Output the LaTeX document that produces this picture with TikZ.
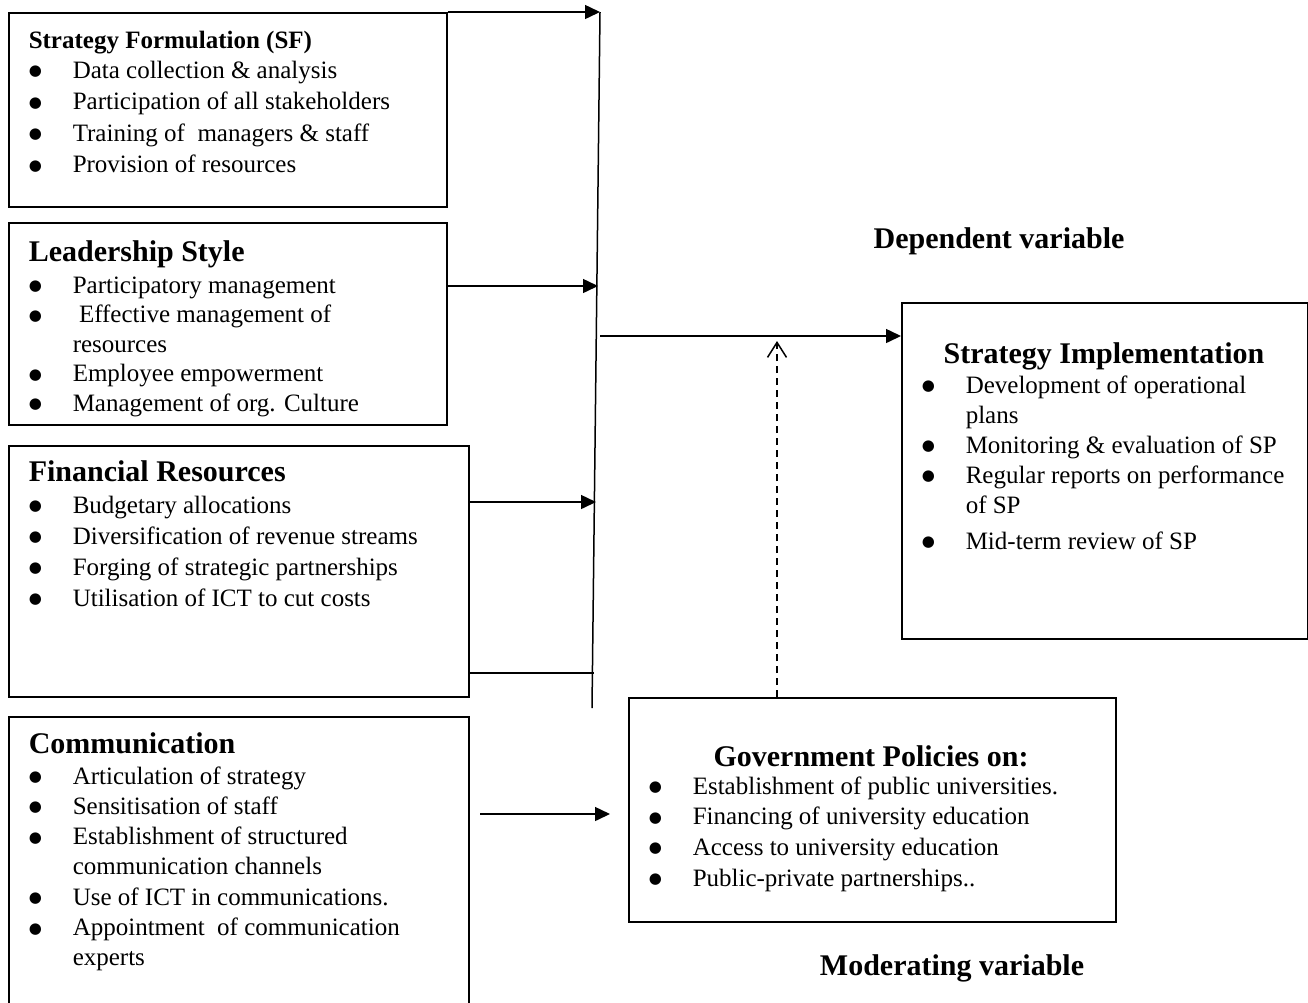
\documentclass[tikz,border=0pt]{standalone}
\usepackage{fontspec}
\setmainfont{Liberation Serif}
\newfontfamily\symfont{DejaVu Sans}
\usetikzlibrary{arrows.meta,positioning}
\newcommand{\bul}{{\symfont\fontsize{15}{15}\selectfont\raisebox{2.5pt}{●}}}
\newcommand{\bodyrows}[1]{\fontsize{25}{#1}\selectfont}
\begin{document}
\begin{tikzpicture}[x=1pt,y=-1pt,line width=1.5pt,
    box/.style={draw,rectangle,anchor=north west,inner sep=0pt},
    head/.style={font=\fontsize{30}{32}\selectfont\bfseries,inner sep=0pt},
    items/.style={anchor=base west,inner sep=0pt,align=left},
    arr/.style={-{Triangle[length=15pt,width=14pt]}},
    modarr/.style={dash pattern=on 7pt off 5pt,-{Straight Barb[length=15pt,width=19pt]}}]
    \useasboundingbox (0,0) rectangle (1308,1002);
    % independent variables
    \node (sf) [box,minimum width=438pt,minimum height=194pt] at (8,12) {};
    \node (sfhead) [head,anchor=base west,font=\fontsize{25}{30}\selectfont\bfseries] at (28,48) {Strategy Formulation (SF)};
    \node (sflist) [items] at (28,78) {\bodyrows{31.5}\begin{tabular}[t]{@{}p{44pt}@{}l@{}}
      \bul & Data collection \& analysis\\
      \bul & Participation of all stakeholders\\
      \bul & Training of \ managers \& staff\\
      \bul & Provision of resources
    \end{tabular}};
    \node (ls) [box,minimum width=438pt,minimum height=202pt] at (8,222) {};
    \node (lshead) [head,anchor=base west] at (28,261) {Leadership Style};
    \node (lslist) [items] at (28,293) {\bodyrows{29.5}\begin{tabular}[t]{@{}p{44pt}@{}l@{}}
      \bul & Participatory management\\
      \bul & \ Effective management of\\
           & resources\\
      \bul & Employee empowerment\\
      \bul & Management of org. Culture
    \end{tabular}};
    \node (fr) [box,minimum width=460pt,minimum height=251pt] at (8,445) {};
    \node (frhead) [head,anchor=base west] at (28,481) {Financial Resources};
    \node (frlist) [items] at (28,513) {\bodyrows{31}\begin{tabular}[t]{@{}p{44pt}@{}l@{}}
      \bul & Budgetary allocations\\
      \bul & Diversification of revenue streams\\
      \bul & Forging of strategic partnerships\\
      \bul & Utilisation of ICT to cut costs
    \end{tabular}};
    \node (com) [box,minimum width=460pt,minimum height=300pt] at (8,716) {};
    \node (comhead) [head,anchor=base west] at (28,753) {Communication};
    \node (comlist) [items] at (28,784) {\bodyrows{30.3}\begin{tabular}[t]{@{}p{44pt}@{}l@{}}
      \bul & Articulation of strategy\\
      \bul & Sensitisation of staff\\
      \bul & Establishment of structured\\
           & communication channels\\
      \bul & Use of ICT in communications.\\
      \bul & Appointment \ of communication\\
           & experts
    \end{tabular}};
    % dependent variable
    \node (si) [box,minimum width=406pt,minimum height=336pt] at (901,302) {};
    \node (sihead) [head,anchor=base] at (1104,363) {Strategy Implementation};
    \node (silist) [items] at (921,393) {\bodyrows{30}\begin{tabular}[t]{@{}p{44pt}@{}l@{}}
      \bul & Development of operational\\
           & plans\\
      \bul & Monitoring \& evaluation of SP\\
      \bul & Regular reports on performance\\
           & of SP\\[6pt]
      \bul & Mid-term review of SP
    \end{tabular}};
    \node (deplabel) [head,anchor=base] at (999,248) {Dependent variable};
    % moderating variable
    \node (gp) [box,minimum width=487pt,minimum height=224pt] at (628,697) {};
    \node (gphead) [head,anchor=base] at (871,766) {Government Policies on:};
    \node (gplist) [items] at (648,794) {\bodyrows{30.7}\begin{tabular}[t]{@{}p{44pt}@{}l@{}}
      \bul & Establishment of public universities.\\
      \bul & Financing of university education\\
      \bul & Access to university education\\
      \bul & Public-private partnerships..
    \end{tabular}};
    \node (modlabel) [head,anchor=base] at (952,975) {Moderating variable};
    % connectors
    \coordinate (bustop) at (600,12);
    \coordinate (busbot) at (592,708);
    \coordinate (lsin) at (598,286);
    \coordinate (frin) at (596,502);
    \coordinate (frlow) at (594,673);
    \coordinate (busout) at (600,336);
    \coordinate (comout) at (480,814);
    \coordinate (gpin) at (610,814);
    \coordinate (modtop) at (777,341);
    \draw (bustop) -- (busbot);
    \draw[arr] (sf.north east) -- (bustop);
    \draw[arr] (ls.north east |- lsin) -- (lsin);
    \draw[arr] (fr.north east |- frin) -- (frin);
    \draw (fr.north east |- frlow) -- (frlow);
    \draw[arr] (busout) -- (si.west |- busout);
    \draw[arr] (comout) -- (gpin);
    \draw[modarr] (gp.north -| modtop) -- (modtop);
\end{tikzpicture}
\end{document}
